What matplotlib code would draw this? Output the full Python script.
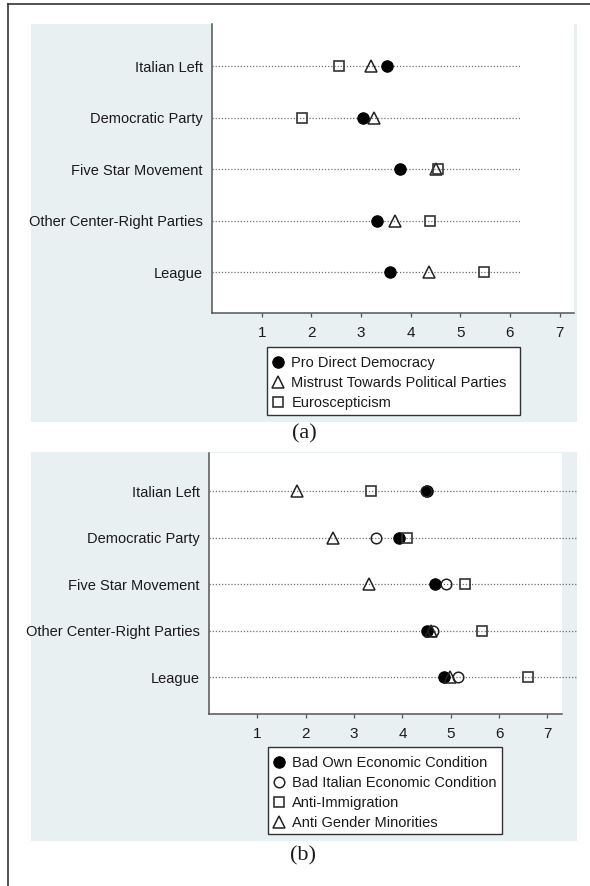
import matplotlib
matplotlib.use('Agg')
import matplotlib.pyplot as plt
from matplotlib.patches import Rectangle
from matplotlib.lines import Line2D

# ---------------- data ----------------
parties = ["Italian Left", "Democratic Party", "Five Star Movement",
           "Other Center-Right Parties", "League"]
xtick_values = [1, 2, 3, 4, 5, 6, 7]
xtick_labels = ["1", "2", "3", "4", "5", "6", "7"]

# panel (a)
a_labels = ["Pro Direct Democracy", "Mistrust Towards Political Parties", "Euroscepticism"]
a_pro_direct = [3.52, 3.05, 3.79, 3.32, 3.59]
a_mistrust = [3.21, 3.26, 4.52, 3.69, 4.36]
a_euroscepticism = [2.55, 1.81, 4.55, 4.40, 5.48]

# panel (b)
b_labels = ["Bad Own Economic Condition", "Bad Italian Economic Condition",
            "Anti-Immigration", "Anti Gender Minorities"]
b_own_econ = [4.50, 3.92, 4.68, 4.50, 4.85]
b_italian_econ = [4.49, 3.45, 4.91, 4.63, 5.14]
b_anti_immigration = [3.34, 4.10, 5.29, 5.65, 6.60]
b_anti_gender = [1.83, 2.56, 3.30, 4.60, 4.99]

# ---------------- style ----------------
W, H = 590, 886
BG = '#e9f0f2'
TXT = '#1a1a1a'
AX = '#555555'
FS = 10.5
SANS = ['Liberation Sans', 'DejaVu Sans']
SERIF = ['Liberation Serif', 'DejaVu Serif']

fig = plt.figure(figsize=(W / 100, H / 100), dpi=100)
fig.patch.set_facecolor('white')


def px_rect(x0, y0, x1, y1):
    return [x0 / W, 1 - y1 / H, (x1 - x0) / W, (y1 - y0) / H]


def fig_box(x0, y0, x1, y1, **kw):
    fig.add_artist(Rectangle((x0 / W, 1 - y1 / H), (x1 - x0) / W, (y1 - y0) / H,
                             transform=fig.transFigure, **kw))


# outer border (left and top)
fig.add_artist(Line2D([8 / W, 8 / W], [0, 1 - 4 / H], transform=fig.transFigure,
                      color='#333333', lw=1.2))
fig.add_artist(Line2D([8 / W, 1], [1 - 4 / H, 1 - 4 / H], transform=fig.transFigure,
                      color='#333333', lw=1.2))

# blue graph regions
for (x0, y0, x1, y1) in [(31, 24, 577, 422), (31, 452, 577, 841)]:
    fig_box(x0, y0, x1, y1, facecolor=BG, edgecolor='none', zorder=0)

marker_styles = {
    'filled': dict(marker='o', markersize=8.2, markerfacecolor='black',
                   markeredgecolor='black', markeredgewidth=0.8),
    'hollow': dict(marker='o', markersize=7.6, markerfacecolor='none',
                   markeredgecolor='#222222', markeredgewidth=1.1),
    'tri': dict(marker='^', markersize=8.8, markerfacecolor='none',
                markeredgecolor='#222222', markeredgewidth=1.1),
    'sq': dict(marker='s', markersize=7.8, markerfacecolor='none',
               markeredgecolor='#333333', markeredgewidth=1.2),
}


def setup_axes(ax, xmax, line_end):
    ypos = list(range(1, len(parties) + 1))
    ax.set_facecolor('white')
    ax.set_xlim(0, xmax)
    ax.set_ylim(5.79, 0.18)
    for y in ypos:
        ax.plot([0, line_end], [y, y], color='#6e6e6e', lw=0.9,
                linestyle=(0, (1, 1.5)), zorder=1, clip_on=False)
    ax.set_yticks(ypos)
    ax.set_yticklabels(parties, fontsize=FS, color=TXT, family=SANS)
    ax.set_xticks(xtick_values)
    ax.set_xticklabels(xtick_labels, fontsize=11, color=TXT, family=SANS)
    ax.tick_params(axis='y', length=0, pad=6.5)
    ax.tick_params(axis='x', length=3.2, width=0.9, color=AX, pad=6.5, direction='out')
    for s in ['top', 'right']:
        ax.spines[s].set_visible(False)
    for s in ['left', 'bottom']:
        ax.spines[s].set_color(AX)
        ax.spines[s].set_linewidth(1.1)
    return ypos


def add_legend(handles, labels, box):
    x0, y0, x1, y1 = box
    fig_box(x0, y0, x1, y1, facecolor='white', edgecolor='#333333', lw=1.0, zorder=5)
    leg = fig.legend(handles, labels, loc='upper left',
                     bbox_to_anchor=((x0 + 1) / W, 1 - (y0 + 6) / H),
                     bbox_transform=fig.transFigure, borderaxespad=0,
                     frameon=False, borderpad=0.2,
                     handlelength=1.0, handletextpad=0.4, labelspacing=0.41,
                     prop={'family': SANS, 'size': FS})
    leg.set_zorder(6)
    for t in leg.get_texts():
        t.set_color(TXT)
    return leg


# ---------------- panel (a) ----------------
axa = fig.add_axes(px_rect(212, 24, 574, 313))
ypos = setup_axes(axa, 7.29, 6.21)
ha1, = axa.plot(a_pro_direct, ypos, linestyle='none', zorder=3, **marker_styles['filled'])
ha2, = axa.plot(a_mistrust, ypos, linestyle='none', zorder=4, **marker_styles['tri'])
ha3, = axa.plot(a_euroscepticism, ypos, linestyle='none', zorder=4, **marker_styles['sq'])
add_legend([ha1, ha2, ha3], a_labels, (267, 347, 520, 415))
fig.text(304 / W, 1 - 434 / H, "(a)", ha='center', va='center',
         fontsize=16, family=SERIF, color=TXT)

# ---------------- panel (b) ----------------
axb = fig.add_axes(px_rect(209, 453, 562, 714))
ypos = setup_axes(axb, 7.30, 7.62)
hb1, = axb.plot(b_own_econ, ypos, linestyle='none', zorder=3, **marker_styles['filled'])
hb2, = axb.plot(b_italian_econ, ypos, linestyle='none', zorder=4, **marker_styles['hollow'])
hb3, = axb.plot(b_anti_immigration, ypos, linestyle='none', zorder=4, **marker_styles['sq'])
hb4, = axb.plot(b_anti_gender, ypos, linestyle='none', zorder=4, **marker_styles['tri'])
add_legend([hb1, hb2, hb3, hb4], b_labels, (268, 747, 502, 834))
fig.text(303 / W, 1 - 856 / H, "(b)", ha='center', va='center',
         fontsize=16, family=SERIF, color=TXT)

fig.savefig('out.png', dpi=100, facecolor='white')
